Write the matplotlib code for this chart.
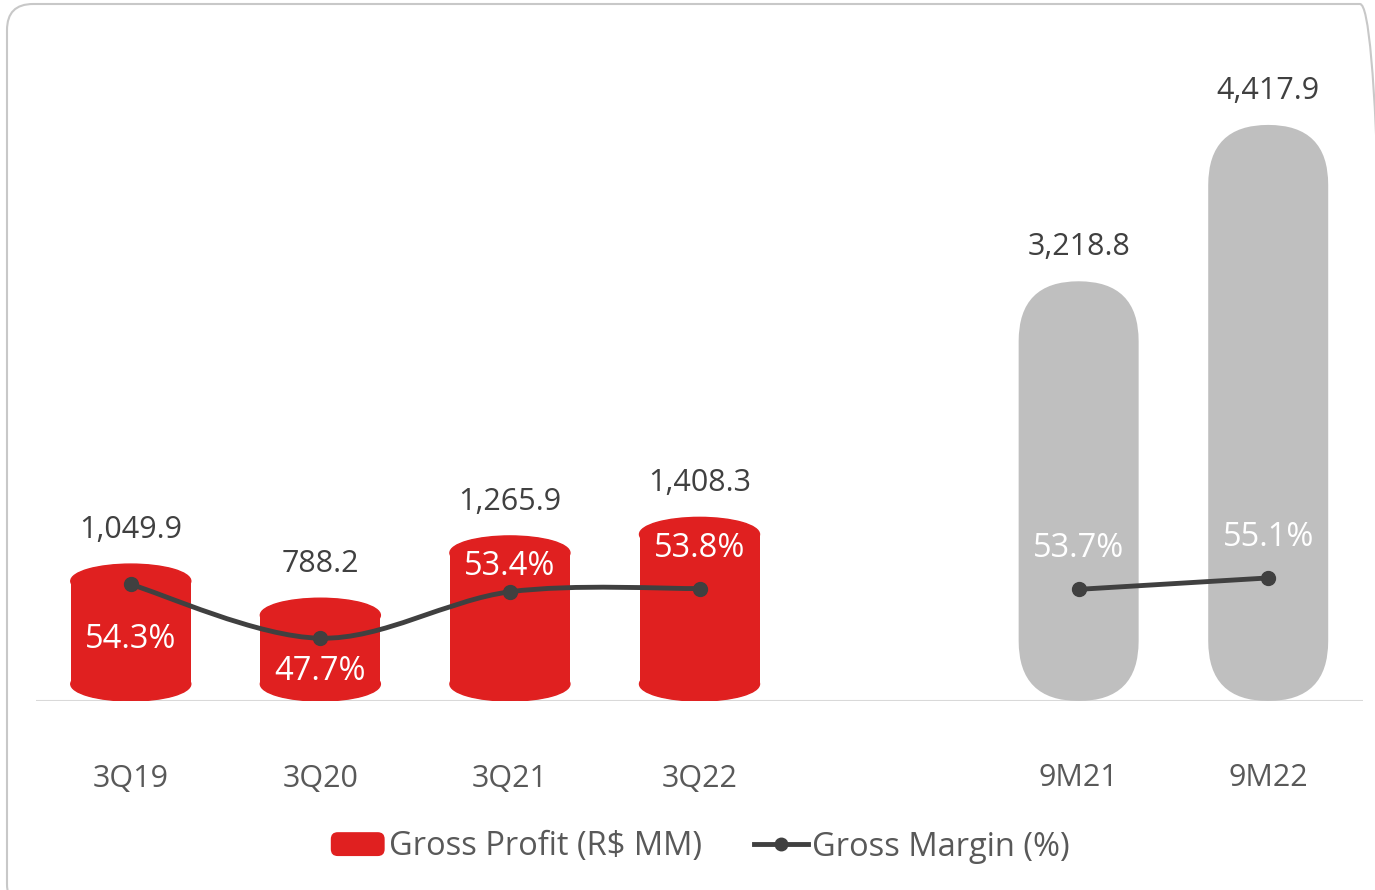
import numpy as np
import matplotlib
matplotlib.use("Agg")
import matplotlib.pyplot as plt
import matplotlib.patches as pat
from matplotlib.path import Path
from matplotlib.lines import Line2D
from matplotlib.legend_handler import HandlerPatch

# data
quarters = ["3Q19", "3Q20", "3Q21", "3Q22"]
periods = ["9M21", "9M22"]
profit_q = [1049.9, 788.2, 1265.9, 1408.3]
profit_9m = [3218.8, 4417.9]
margin_q = [54.3, 47.7, 53.4, 53.8]
margin_9m = [53.7, 55.1]

RED = "#e02020"
GRAY = "#bfbfbf"
LINE = "#404040"
TXT = "#404040"
CAT = "#595959"

plt.rcParams["font.family"] = ["Open Sans", "DejaVu Sans"]

W, H = 13.75, 8.9
fig = plt.figure(figsize=(W, H), dpi=100)
ax = fig.add_axes([36 / 1375, 1 - 701 / 890, 1327 / 1375, 652 / 890])
ax2 = ax.twinx()

xq = np.arange(len(quarters))
x9 = np.arange(len(periods)) + len(quarters) + 1
ax.set_xlim(-0.5, 6.5)
ax.set_ylim(0, 5000)
ax2.set_ylim(40, 120)
for a in (ax, ax2):
    for s in a.spines.values():
        s.set_visible(False)
    a.set_yticks([])
ax.axhline(0, color="#d9d9d9", lw=1.5, zorder=1)

# pixel -> data scale
px_x = 1327 / 7.0
px_y = 652 / 5000.0
bw = 120 / px_x
e = 17 / px_y  # semi-height of the cylinder ellipses

# red cylinders
ax.bar(xq, [v - 2 * e for v in profit_q], bottom=e, width=bw, color=RED, zorder=2)
for x, v in zip(xq, profit_q):
    ax.add_patch(pat.Ellipse((x, v - e), bw, 2 * e, color=RED, zorder=2))
    ax.add_patch(pat.Ellipse((x, e), bw, 2 * e, color=RED, zorder=2))

# gray pills
aspect = px_x / px_y
for x, v in zip(x9, profit_9m):
    ax.add_patch(pat.FancyBboxPatch((x - bw / 2, 0), bw, v,
                                    boxstyle="round,pad=0,rounding_size=%f" % (bw / 2),
                                    mutation_aspect=aspect, color=GRAY, lw=0, zorder=2))

# value labels
for x, v in zip(list(xq) + list(x9), profit_q + profit_9m):
    ax.annotate(f"{v:,.1f}", (x, v), xytext=(0, 24.5), textcoords="offset points",
                ha="center", va="center", fontsize=22, color=TXT, zorder=5)

# smooth margin line (catmull-rom as bezier)
pts = np.column_stack([xq, margin_q]).astype(float)
verts = [tuple(pts[0])]
codes = [Path.MOVETO]
n = len(pts)
for i in range(n - 1):
    p0 = pts[max(i - 1, 0)]
    p1 = pts[i]
    p2 = pts[i + 1]
    p3 = pts[min(i + 2, n - 1)]
    c1 = p1 + (p2 - p0) / 6
    c2 = p2 - (p3 - p1) / 6
    verts += [tuple(c1), tuple(c2), tuple(p2)]
    codes += [Path.CURVE4] * 3
ax2.add_patch(pat.PathPatch(Path(verts, codes), fill=False, edgecolor=LINE,
                            lw=3.5, capstyle="round", zorder=4))
ax2.plot(xq, margin_q, "o", color=LINE, ms=10, zorder=4)
ax2.plot(x9, margin_9m, "o-", color=LINE, lw=3.5, ms=10, zorder=4)

# margin labels
offs = [-39.6, -23.8, 18, 28.8, 29.5, 28.8]
for x, m, dy in zip(list(xq) + list(x9), margin_q + margin_9m, offs):
    ax2.annotate(f"{m:.1f}%", (x, m), xytext=(0, dy), textcoords="offset points",
                 ha="center", va="center", fontsize=23.5, color="white", zorder=6)

# category labels
ax.set_xticks(list(xq) + list(x9), quarters + periods)
ax.tick_params(axis="x", length=0, pad=45, labelsize=22, labelcolor=CAT)
ax2.tick_params(axis="x", length=0)


# legend
def pill(legend, orig_handle, xdescent, ydescent, width, height, fontsize):
    return pat.FancyBboxPatch((-xdescent, -ydescent), width, height,
                              boxstyle="round,pad=0,rounding_size=5")


red_h = pat.Patch(facecolor=RED, edgecolor="none")
line_h = Line2D([0], [0], color=LINE, lw=3.5, marker="o", ms=9)
fig.legend([red_h, line_h], ["Gross Profit (R$ MM)", "Gross Margin (%)"], loc="center",
           bbox_to_anchor=(700 / 1375, 1 - 847 / 890), ncol=2, frameon=False,
           fontsize=23.5, labelcolor=CAT, handlelength=1.65, handleheight=0.75,
           handletextpad=0.12, columnspacing=1.6,
           handler_map={red_h: HandlerPatch(patch_func=pill)})

# outer rounded frame (right and bottom edges fall outside the canvas)
frame = pat.FancyBboxPatch((0.07, -0.2), 13.79, 8.86 + 0.2,
                           boxstyle="round,pad=0,rounding_size=0.26",
                           transform=fig.dpi_scale_trans, fill=False,
                           edgecolor="#c8c8c8", lw=1.5, clip_on=False)
fig.patches.append(frame)

fig.savefig("out.png", dpi=100)
